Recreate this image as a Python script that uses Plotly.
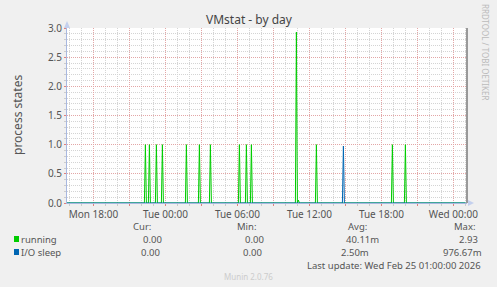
import plotly.graph_objects as go
import pandas as pd

# ---- data ----
run_times = ["2026-02-23 22:20", "2026-02-23 22:40", "2026-02-23 23:15", "2026-02-23 23:45",
             "2026-02-24 01:45", "2026-02-24 02:50", "2026-02-24 03:45", "2026-02-24 06:10",
             "2026-02-24 06:45", "2026-02-24 07:10", "2026-02-24 10:55", "2026-02-24 11:05",
             "2026-02-24 12:35", "2026-02-24 18:55", "2026-02-24 20:00"]
run_vals = [1, 1, 1, 1, 1, 1, 1, 1, 1, 1, 2.93, 0.05, 1, 1, 1]
io_times = ["2026-02-24 14:50"]
io_vals = [0.977]
start, end = "2026-02-23 15:45", "2026-02-25 01:00"
x_range = ["2026-02-23 15:48", "2026-02-25 01:08"]
tick_vals = pd.date_range("2026-02-23 18:00", "2026-02-25 00:00", freq="3h")
tick_text = [t.strftime("%a %H:%M") if t.hour % 6 == 0 else "" for t in tick_vals]
legend_rows = [("running", "#00cc00", "0.00", "0.00", "40.11m", "2.93"),
               ("I/O sleep", "#0066b3", "0.00", "0.00", "2.50m", "976.67m")]

grid = pd.date_range(start, end, freq="5min")
def series(times, vals):
    s = pd.Series(0.0, index=grid)
    for t, v in zip(times, vals):
        s[pd.Timestamp(t)] = v
    return s

run = series(run_times, run_vals)
io = series(io_times, io_vals)

FONT = "Noto Sans"
fig = go.Figure()
fig.add_trace(go.Scatter(x=run.index, y=run.values, mode="lines",
                         line=dict(color="#00cc00", width=1), name="running"))
fig.add_trace(go.Scatter(x=io.index, y=io.values, mode="lines",
                         line=dict(color="#0066b3", width=1), name="I/O sleep"))

fig.update_layout(
    width=497, height=287, autosize=False,
    margin=dict(l=67, r=30, t=28, b=84),
    paper_bgcolor="#f0f0f0", plot_bgcolor="#ffffff",
    showlegend=False,
    font=dict(family=FONT, size=10, color="#555555"),
)
fig.update_xaxes(
    type="date", range=x_range, tickvals=tick_vals, ticktext=tick_text,
    showgrid=True, gridcolor="#e3a6a6", griddash="1px,1px", gridwidth=1,
    ticks="outside", ticklen=2, tickcolor="#e08080",
    minor=dict(dtick=3600000, showgrid=True, gridcolor="#d4d4d4", griddash="1px,1px",
               ticks="outside", ticklen=2, tickcolor="#cccccc"),
    showline=True, linecolor="#a8b8e0", linewidth=1, zeroline=False,
    tickfont=dict(family=FONT, size=10, color="#555555"),
)
fig.update_yaxes(
    range=[0, 3.0], dtick=0.5, tickformat=".1f",
    showgrid=True, gridcolor="#e3a6a6", griddash="1px,1px", gridwidth=1,
    ticks="outside", ticklen=2, tickcolor="#e08080",
    minor=dict(dtick=0.1, showgrid=True, gridcolor="#d4d4d4", griddash="1px,1px",
               ticks="outside", ticklen=2, tickcolor="#cccccc"),
    showline=True, linecolor="#a8b8e0", linewidth=1, zeroline=False,
    tickfont=dict(family=FONT, size=10, color="#555555"),
)

# right frame line and axis arrows
fig.add_shape(type="line", xref="paper", yref="paper", x0=1, x1=1, y0=0, y1=1,
              line=dict(color="#999999", width=2))
fig.add_shape(type="path", xref="paper", yref="paper", xsizemode="pixel", ysizemode="pixel",
              xanchor=1, yanchor=0, path="M 1 -3 L 7 0 L 1 3 Z",
              fillcolor="#c4d0ee", line=dict(width=0))
fig.add_shape(type="path", xref="paper", yref="paper", xsizemode="pixel", ysizemode="pixel",
              xanchor=0, yanchor=1, path="M -3 0 L 0 7 L 3 0 Z",
              fillcolor="#c4d0ee", line=dict(width=0))

def ann(text, x, y, anchor="left", size=9.5, color="#555555", **kw):
    fig.add_annotation(text=text, x=x, y=y, xref="paper", yref="paper", xanchor=anchor,
                       yanchor="middle", showarrow=False, borderpad=0,
                       font=dict(family=FONT, size=size, color=color), **kw)

px = lambda x: (x - 67) / 400.0
py = lambda y: (203 - y) / 175.0

ann("VMstat - by day", px(249), py(19), anchor="center", size=12, color="#444444")
ann("process states", px(17), py(115), anchor="center", size=12, textangle=-90)
ann("RRDTOOL / TOBI OETIKER", px(486), py(52), anchor="center", size=8, color="#bbbbbb",
    textangle=90)

for txt, xr in [("Cur:", 152), ("Min:", 258), ("Avg:", 368), ("Max:", 477)]:
    ann(txt, px(xr), py(226), anchor="right")
for i, (name, col, cur, mn, avg, mx) in enumerate(legend_rows):
    y = 239 + 13 * i
    fig.add_shape(type="rect", xref="paper", yref="paper",
                  x0=px(14), x1=px(19), y0=py(y - 3), y1=py(y + 3),
                  fillcolor=col, line=dict(width=0))
    ann(name, px(19.5), py(y))
    offs = [0, -2][i]
    ann(cur, px(163 + offs), py(y), anchor="right")
    ann(mn, px(265 + offs), py(y), anchor="right")
    ann(avg, px([380, 370][i]), py(y), anchor="right")
    ann(mx, px([479, 483][i]), py(y), anchor="right")

ann("Last update: Wed Feb 25 01:00:00 2026", px(482), py(265), anchor="right")
ann("Munin 2.0.76", px(248), py(276), anchor="center", size=8, color="#cccccc")

fig.write_html("out.html")
